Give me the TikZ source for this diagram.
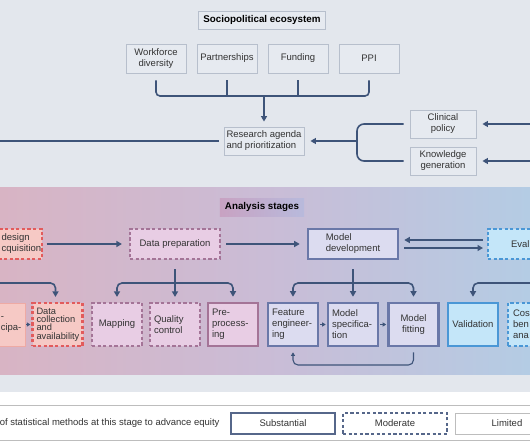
\documentclass[tikz,border=0pt]{standalone}
\usepackage{fontspec}
\setmainfont{Liberation Sans}
\usetikzlibrary{arrows.meta}

\definecolor{bgtop}{HTML}{E3E7ED}
\definecolor{boxline}{HTML}{B7BFCC}
\definecolor{boxfill}{HTML}{E6EAF0}
\definecolor{conncol}{HTML}{3E5479}
\definecolor{txt}{HTML}{333333}
\definecolor{redline}{HTML}{E25B5C}
\definecolor{redfill}{HTML}{F6C9C5}
\definecolor{mauveline}{HTML}{A47497}
\definecolor{mauvefill}{HTML}{E8CDE4}
\definecolor{slateline}{HTML}{6A78A8}
\definecolor{slatefill}{HTML}{DCDCF0}
\definecolor{blueline}{HTML}{4A97D6}
\definecolor{bluefill}{HTML}{C4E6F9}
\definecolor{legline}{HTML}{56678A}
\definecolor{rule}{HTML}{BDBDBD}

\newcommand{\txtfont}{\fontsize{9.5}{11}\selectfont}

\tikzset{
  topbox/.style={rectangle, draw=boxline, fill=boxfill, line width=.9pt, text=txt,
    font=\txtfont, align=center, minimum width=60, minimum height=29, inner sep=2},
  head/.style={rectangle, draw=boxline, line width=.9pt, text=black,
    font=\fontsize{9.8}{11}\selectfont\bfseries, minimum height=18, inner xsep=5},
  conn/.style={draw=conncol, line width=1.6pt},
  thinconn/.style={draw=conncol, line width=1.1pt, >={Triangle[length=3.5pt,width=4pt]}},
  dashline/.style={dash pattern=on 3.2pt off 2.4pt, line width=2.2pt},
  stagebox/.style={rectangle, text=txt, font=\txtfont, minimum width=90, minimum height=30, inner sep=2},
  subbox/.style={rectangle, text=txt, font=\txtfont, minimum width=50, minimum height=43,
    text width=42, align=left, inner sep=2},
  redbox/.style={dashline, draw=redline, fill=redfill},
  mauvedash/.style={dashline, draw=mauveline, fill=mauvefill},
  mauvebox/.style={line width=2.6pt, draw=mauveline, fill=mauvefill},
  slatebox/.style={line width=2.6pt, draw=slateline, fill=slatefill},
  bluebox/.style={line width=2.6pt, draw=blueline, fill=bluefill},
  bluedash/.style={dashline, draw=blueline, fill=bluefill},
  legbox/.style={rectangle, text=txt, font=\txtfont, minimum width=104, minimum height=21, fill=white}
}

\begin{document}
\begin{tikzpicture}[x=1pt, y=-1pt, >={Triangle[length=5.5pt,width=6pt]}]
  \def\Ytop{58.5}
  \def\Yone{244}
  \def\Ytwo{324.5}
  \def\Yleg{423.5}

  \clip (0,0) rectangle (530,442);
  % backgrounds
  \fill[bgtop] (0,0) rectangle (530,187);
  \shade[left color={rgb,255:red,216;green,180;blue,196}, right color={rgb,255:red,180;green,204;blue,228},
    middle color={rgb,255:red,202;green,188;blue,214}] (0,187) rectangle (530,375);
  \fill[bgtop] (0,375) rectangle (530,392);
  \fill[white] (0,392) rectangle (530,442);

  % sociopolitical ecosystem
  \node[head, fill=boxfill] (socio) at (262,20) {Sociopolitical ecosystem};
  \node[topbox] (work) at (156,\Ytop) {Workforce\\diversity};
  \node[topbox] (part) at (227,\Ytop) {Partnerships};
  \node[topbox] (fund) at (298,\Ytop) {Funding};
  \node[topbox] (ppi) at (369,\Ytop) {PPI};
  \node[topbox, minimum width=80, minimum height=28, align=left] (agenda) at (264,141) {Research agenda\\and prioritization};
  \node[topbox, minimum width=66, minimum height=28] (clin) at (443,124) {Clinical\\policy};
  \node[topbox, minimum width=66, minimum height=28] (know) at (443,161) {Knowledge\\generation};

  % brackets
  \coordinate (topjoin) at (264,96);
  \draw[conn, rounded corners=4pt] ([yshift=-7pt]work.south) |- (topjoin) -| ([yshift=-7pt]ppi.south);
  \draw[conn] ([yshift=-7pt]part.south) -- (part.south |- topjoin);
  \draw[conn] ([yshift=-7pt]fund.south) -- (fund.south |- topjoin);
  \draw[conn, ->] (topjoin) -- ([yshift=5pt]agenda.north);
  \coordinate (farleft) at (-5,141);
  \draw[conn] ([xshift=-5pt]agenda.west) -- (farleft);
  \coordinate (rightjoin) at (357,141);
  \draw[conn, rounded corners=7pt] ([xshift=-6pt]clin.west) -| (rightjoin) |- ([xshift=-6pt]know.west);
  \draw[conn, ->] (rightjoin) -- ([xshift=6pt]agenda.east);
  \coordinate (clinsrc) at (535,124);
  \coordinate (knowsrc) at (535,161);
  \draw[conn, ->] (clinsrc) -- ([xshift=6pt]clin.east);
  \draw[conn, ->] (knowsrc) -- ([xshift=6pt]know.east);

  % analysis stages
  \node[head, draw=none, left color={rgb,255:red,200;green,162;blue,194}, right color={rgb,255:red,184;green,186;blue,220}] (stages) at (262,207) {Analysis stages};
  \node[stagebox, redbox, anchor=west, minimum width=0, text width=37, inner xsep=3, align=left] (design) at (-2.5,\Yone) {design\\cquisition};
  \node[stagebox, mauvedash] (prep) at (175,\Yone) {Data preparation};
  \node[stagebox, slatebox, align=left] (dev) at (353,\Yone) {Model\\development};
  \node[stagebox, bluedash, anchor=west, minimum width=0, text width=30, inner xsep=23, align=left] (eval) at (487,\Yone) {Eval};
  % arrows
  \draw[conn, ->] ([xshift=4pt]design.east) -- ([xshift=-7pt]prep.west);
  \draw[conn, ->] ([xshift=5pt]prep.east) -- ([xshift=-7pt]dev.west);
  \draw[conn, ->] ([xshift=-4pt,yshift=4pt]eval.west) -- ([xshift=5pt,yshift=4pt]dev.east);
  \draw[conn, ->] ([xshift=5pt,yshift=-4pt]dev.east) -- ([xshift=-4pt,yshift=-4pt]eval.west);

  \node[subbox, fill=redfill, draw={rgb,255:red,238;green,170;blue,164}, line width=.6pt, anchor=west,
    minimum width=0, text width=21, inner xsep=3, text depth=13pt] (partic) at (-2.5,\Ytwo) {-\\cipa-};
  \node[subbox, redbox, font=\fontsize{9.3}{8.4}\selectfont] (coll) at (57.5,\Ytwo) {Data\\collection\\and\\availability};
  \node[subbox, mauvedash, align=center] (map) at (117,\Ytwo) {Mapping};
  \node[subbox, mauvedash] (qc) at (175,\Ytwo) {Quality\\control};
  \node[subbox, mauvebox] (pre) at (233,\Ytwo) {Pre-\\process-\\ing};
  \node[subbox, slatebox] (feat) at (293,\Ytwo) {Feature\\engineer-\\ing};
  \node[subbox, slatebox] (spec) at (353,\Ytwo) {Model\\specifica-\\tion};
  \node[subbox, slatebox, align=center] (fit) at (413.5,\Ytwo) {Model\\fitting};
  \node[subbox, bluebox, align=center] (valid) at (473,\Ytwo) {Validation};
  \node[subbox, bluedash, anchor=west, minimum width=0, text width=30, inner xsep=5] (cost) at (507,\Ytwo) {Cos\\ben\\ana};

  % branches
  \coordinate (prepjoin) at (175,283);
  \draw[conn] ([yshift=-9pt]prep.south) -- (prepjoin);
  \draw[conn, ->, rounded corners=5pt] (prepjoin) -| ([yshift=5pt]map.north);
  \draw[conn, ->] (prepjoin) -- ([yshift=5pt]qc.north);
  \draw[conn, ->, rounded corners=5pt] (prepjoin) -| ([yshift=5pt]pre.north);
  \coordinate (devjoin) at (353,283);
  \draw[conn] ([yshift=-9pt]dev.south) -- (devjoin);
  \draw[conn, ->, rounded corners=5pt] (devjoin) -| ([yshift=5pt]feat.north);
  \draw[conn, ->] (devjoin) -- ([yshift=5pt]spec.north);
  \draw[conn, ->, rounded corners=5pt] (devjoin) -| ([yshift=5pt]fit.north);
  \coordinate (leftsrc) at (-5,283);
  \draw[conn, ->, rounded corners=5pt] (leftsrc) -| ([xshift=-2pt,yshift=5pt]coll.north);
  \coordinate (rightsrc) at (535,283);
  \draw[conn, ->, rounded corners=5pt] (rightsrc) -| ([yshift=5pt]valid.north);
  % small arrows
  \draw[thinconn, ->] ([xshift=1pt]partic.east) -- ([xshift=-1pt]coll.west);
  \draw[thinconn, ->] ([xshift=1pt]feat.east) -- ([xshift=-1pt]spec.west);
  \draw[thinconn, ->] ([xshift=1pt]spec.east) -- ([xshift=-1pt]fit.west);
  \coordinate (loopbot) at (353,365);
  \draw[thinconn, ->, rounded corners=5pt] ([yshift=-5pt]fit.south) |- (loopbot) -| ([yshift=-5pt]feat.south);

  % legend
  \draw[rule, line width=.8pt] (0,405) -- (530,405);
  \draw[rule, line width=.8pt] (0,440) -- (530,440);
  \node[anchor=east, text=txt, font=\txtfont] (legtext) at (223,\Yleg) {of statistical methods at this stage to advance equity};
  \node[legbox, draw=legline, line width=2.2pt] (subst) at (283,\Yleg) {Substantial};
  \node[legbox, draw=legline, dashline] (moder) at (395,\Yleg) {Moderate};
  \node[legbox, draw=rule, line width=.8pt] (limit) at (507,\Yleg) {Limited};
\end{tikzpicture}
\end{document}
